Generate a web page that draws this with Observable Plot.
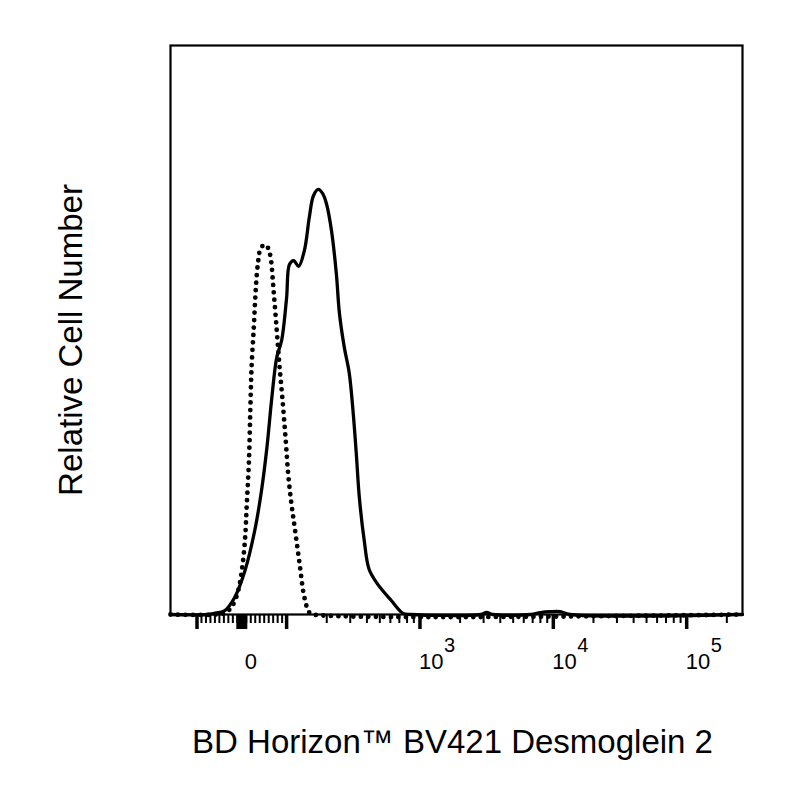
<!DOCTYPE html>
<html>
<head>
<meta charset="utf-8">
<script src="https://cdn.jsdelivr.net/npm/d3@7"></script>
<script src="https://cdn.jsdelivr.net/npm/@observablehq/plot@0.6"></script>
<style>
  html, body { margin: 0; padding: 0; background: #fff; }
</style>
</head>
<body>
<div id="chart"></div>
<script>
// ---- Data (fluorescence intensity, relative cell number) ----
const solidX = [-158, -78, -62, -38, -16, 7, 29, 44, 56, 67, 78, 89, 100, 105, 113, 123, 136, 148, 159, 173, 186, 199, 217, 236, 249, 271, 295, 316, 333, 351, 382, 416, 486, 607, 746, 856, 2860, 3160, 3500, 6750, 8010, 9500, 11270, 13360, 262144];
const solidY = [0, 0, 0.2, 0.7, 3.0, 7.7, 14.8, 21.8, 29.3, 38.1, 45.2, 48.2, 55.7, 61.5, 62.2, 61.2, 64.0, 69.8, 73.6, 74.7, 74.0, 72.2, 67.5, 59.9, 52.9, 46.9, 42.4, 35.3, 28.3, 20.6, 13.0, 7.9, 5.2, 2.5, 0.2, 0, 0, 0.35, 0, 0, 0.35, 0.5, 0.5, 0, 0];

const dottedX = [-158, -56, -36, -22, -9, 0, 7, 11, 16, 19, 22, 27, 31, 36, 42, 51, 58, 64, 71, 78, 84, 91, 98, 103, 109, 115, 125, 136, 148, 159, 262144];
const dottedY = [0, 0, 0.35, 1.4, 3.9, 7.7, 13.0, 19.2, 27.1, 35.9, 43.8, 50.8, 56.9, 61.7, 64.3, 65.0, 64.5, 62.9, 56.9, 49.9, 43.8, 37.6, 30.6, 24.4, 19.2, 15.3, 9.0, 3.0, 0.35, 0, 0];

// ---- Axis ticks ----
const minorTicks = [-90, -80, -70, -60, -50, -40, -30, -20, -10,
  10, 20, 30, 40, 50, 60, 70, 80, 90,
  200, 300, 400, 500, 600, 700, 800, 900,
  2000, 3000, 4000, 5000, 6000, 7000, 8000, 9000,
  20000, 30000, 40000, 50000, 60000, 70000, 80000, 90000,
  200000];
const majorTicks = [-100, 100, 1000, 10000, 100000];
const zeroTick = [0];
const powerTicks = [1000, 10000, 100000];
const powerExponents = ["3", "4", "5"];
const xLabel = "BD Horizon™ BV421 Desmoglein 2";
const yLabel = "Relative Cell Number";
const xDomain = [-158, 262144];

// Biexponential-like display transform: linear around zero, log above 100
const LIN = 0.336;
function biex(v) {
  const a = Math.abs(v);
  const s = a <= 100 ? (a / 100) * LIN : LIN + Math.log10(a / 100);
  return v < 0 ? -s : s;
}

const solid = solidX.map((x, i) => ({x, y: solidY[i]}));
const dotted = dottedX.map((x, i) => ({x, y: dottedY[i]}));

const chart = Plot.plot({
  width: 800,
  height: 800,
  marginLeft: 170,
  marginRight: 58,
  marginTop: 45,
  marginBottom: 186,
  style: {fontFamily: "'Liberation Sans', Arial, Helvetica, sans-serif", background: "#fff", color: "#000"},
  x: {type: "linear", domain: xDomain.map(biex)},
  y: {domain: [0, 100], axis: null},
  marks: [
    Plot.line(solid, {x: d => biex(d.x), y: "y", stroke: "#000", strokeWidth: 3.3, curve: "catmull-rom"}),
    Plot.line(dotted, {x: d => biex(d.x), y: "y", stroke: "#000", strokeWidth: 4.8, strokeDasharray: "0 7.5", strokeLinecap: "round", curve: "catmull-rom"}),
    Plot.frame({stroke: "#000", strokeWidth: 2.2}),
    Plot.axisX({ticks: minorTicks.map(biex), tickSize: 9, strokeWidth: 2, tickFormat: () => "", label: null}),
    Plot.axisX({ticks: majorTicks.map(biex), tickSize: 15, strokeWidth: 3.5, tickFormat: () => "", label: null}),
    Plot.axisX({ticks: zeroTick.map(biex), tickSize: 15, strokeWidth: 11, tickFormat: () => "", label: null}),
    Plot.text(zeroTick, {x: d => biex(d), text: () => "0", frameAnchor: "bottom", dx: 3, dy: 54, textAnchor: "start", lineAnchor: "bottom", fontSize: 22}),
    Plot.text(powerTicks, {x: d => biex(d), text: () => "10", frameAnchor: "bottom", dx: -1, dy: 54, textAnchor: "start", lineAnchor: "bottom", fontSize: 22}),
    Plot.text(powerTicks, {x: d => biex(d), text: (d, i) => powerExponents[i], frameAnchor: "bottom", dx: 24, dy: 37, textAnchor: "start", lineAnchor: "bottom", fontSize: 20}),
    Plot.text([xLabel], {text: d => d, frameAnchor: "bottom", dx: -4, dy: 138, textAnchor: "middle", lineAnchor: "bottom", fontSize: 33}),
    Plot.text([yLabel], {text: d => d, frameAnchor: "left", rotate: -90, dx: -89, dy: 10, textAnchor: "middle", lineAnchor: "bottom", fontSize: 33})
  ]
});
document.getElementById("chart").appendChild(chart);
</script>
</body>
</html>
